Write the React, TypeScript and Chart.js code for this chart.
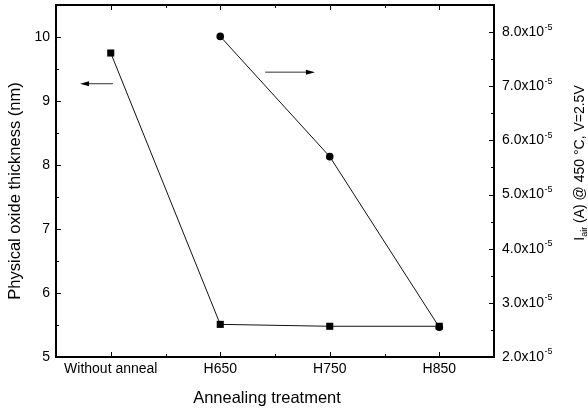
import { useEffect, useRef } from 'react';
import { Chart, registerables } from 'chart.js';

Chart.register(...registerables);

const categories = ['Without anneal', 'H650', 'H750', 'H850'];
const thickness = [9.75, 5.51, 5.48, 5.48];
const current = [null, 7.92e-5, 5.70e-5, 2.55e-5];
const leftTicks = [5, 6, 7, 8, 9, 10];
const rightTicks = [2e-5, 3e-5, 4e-5, 5e-5, 6e-5, 7e-5, 8e-5];
const rightTickExponent = '-5';
const xTitle = 'Annealing treatment';
const leftTitle = 'Physical oxide thickness (nm)';
const rightTitleMain = 'I';
const rightTitleSub = 'air';
const rightTitleRest = ' (A) @ 450 °C, V=2.5V';
// arrows: [tail x, tip x] in category units, y in the axis units they refer to
const leftArrowX = [0.02, -0.28];
const leftArrowY = 9.27;
const rightArrowX = [1.41, 1.865];
const rightArrowY = 7.26e-5;

const FONT = '"Liberation Sans", Arial, Helvetica, sans-serif';

function drawArrow(ctx: CanvasRenderingContext2D, x0: number, x1: number, y: number) {
  const dir = Math.sign(x1 - x0);
  ctx.save();
  ctx.strokeStyle = '#333';
  ctx.lineWidth = 1;
  ctx.beginPath();
  ctx.moveTo(x0, y);
  ctx.lineTo(x1 - dir * 6, y);
  ctx.stroke();
  ctx.fillStyle = '#000';
  ctx.beginPath();
  ctx.moveTo(x1, y);
  ctx.lineTo(x1 - dir * 9, y - 2.5);
  ctx.lineTo(x1 - dir * 9, y + 2.5);
  ctx.closePath();
  ctx.fill();
  ctx.restore();
}

const framePlugin = {
  id: 'framePlugin',
  beforeDatasetsDraw(chart: any) {
    const ctx: CanvasRenderingContext2D = chart.ctx;
    const { left, right, top, bottom } = chart.chartArea;
    const xs = chart.scales.x;
    const ys = chart.scales.y;
    const y2 = chart.scales.y2;
    ctx.save();
    ctx.strokeStyle = '#000';
    ctx.lineWidth = 1;
    // x ticks (top & bottom, inward)
    categories.forEach((_, i) => {
      const px = Math.round(xs.getPixelForValue(i)) + 0.5;
      ctx.beginPath();
      ctx.moveTo(px, bottom); ctx.lineTo(px, bottom - 5);
      ctx.moveTo(px, top); ctx.lineTo(px, top + 5);
      ctx.stroke();
      if (i < categories.length - 1) {
        const pm = Math.round(xs.getPixelForValue(i + 0.5)) + 0.5;
        ctx.beginPath();
        ctx.moveTo(pm, bottom); ctx.lineTo(pm, bottom - 3);
        ctx.moveTo(pm, top); ctx.lineTo(pm, top + 3);
        ctx.stroke();
      }
    });
    // left ticks
    leftTicks.forEach((v) => {
      const py = Math.round(ys.getPixelForValue(v)) + 0.5;
      ctx.beginPath();
      ctx.moveTo(left, py); ctx.lineTo(left + 5, py);
      ctx.stroke();
      const pm = Math.round(ys.getPixelForValue(v + 0.5)) + 0.5;
      if (pm > top + 1) {
        ctx.beginPath();
        ctx.moveTo(left, pm); ctx.lineTo(left + 3, pm);
        ctx.stroke();
      }
    });
    // right ticks
    rightTicks.forEach((v) => {
      const py = Math.round(y2.getPixelForValue(v)) + 0.5;
      ctx.beginPath();
      ctx.moveTo(right, py); ctx.lineTo(right - 5, py);
      ctx.stroke();
      const pm = Math.round(y2.getPixelForValue(v + 0.5e-5)) + 0.5;
      if (pm > top + 1) {
        ctx.beginPath();
        ctx.moveTo(right, pm); ctx.lineTo(right - 3, pm);
        ctx.stroke();
      }
    });
    // frame
    ctx.lineWidth = 2;
    ctx.strokeRect(left, top, right - left, bottom - top);

    // arrows
    drawArrow(ctx, xs.getPixelForValue(leftArrowX[0]), xs.getPixelForValue(leftArrowX[1]), ys.getPixelForValue(leftArrowY));
    drawArrow(ctx, xs.getPixelForValue(rightArrowX[0]), xs.getPixelForValue(rightArrowX[1]), y2.getPixelForValue(rightArrowY));

    // right tick labels with superscript
    ctx.fillStyle = '#000';
    ctx.textBaseline = 'middle';
    ctx.textAlign = 'left';
    rightTicks.forEach((v) => {
      const py = y2.getPixelForValue(v);
      const main = (v / 1e-5).toFixed(1) + 'x10';
      ctx.font = `14px ${FONT}`;
      const w = ctx.measureText(main).width;
      const x = right + 8;
      ctx.fillText(main, x, py);
      ctx.font = `9px ${FONT}`;
      ctx.fillText(rightTickExponent, x + w + 0.5, py - 5);
    });

    // left title
    ctx.save();
    ctx.translate(15, (top + bottom) / 2 + 10);
    ctx.rotate(-Math.PI / 2);
    ctx.font = `16.5px ${FONT}`;
    ctx.textAlign = 'center';
    ctx.textBaseline = 'middle';
    ctx.fillText(leftTitle, 0, 0);
    ctx.restore();

    // bottom title
    ctx.font = `16.5px ${FONT}`;
    ctx.textAlign = 'center';
    ctx.textBaseline = 'middle';
    ctx.fillText(xTitle, (left + right) / 2 - 8, 398);

    // right title with subscript
    ctx.save();
    ctx.translate(580, (top + bottom) / 2 - 18);
    ctx.rotate(-Math.PI / 2);
    ctx.textAlign = 'left';
    ctx.textBaseline = 'middle';
    const big = `14px ${FONT}`;
    const small = `9px ${FONT}`;
    ctx.font = big;
    const w1 = ctx.measureText(rightTitleMain).width;
    const w3 = ctx.measureText(rightTitleRest).width;
    ctx.font = small;
    const w2 = ctx.measureText(rightTitleSub).width;
    let x = -(w1 + w2 + w3) / 2;
    ctx.font = big;
    ctx.fillText(rightTitleMain, x, 0);
    x += w1;
    ctx.font = small;
    ctx.fillText(rightTitleSub, x, 5);
    x += w2;
    ctx.font = big;
    ctx.fillText(rightTitleRest, x, 0);
    ctx.restore();

    ctx.restore();
  },
};

export default function App() {
  const ref = useRef<HTMLCanvasElement>(null);
  useEffect(() => {
    if (!ref.current) return;
    const chart = new Chart(ref.current, {
      type: 'line',
      data: {
        datasets: [
          {
            label: 'Thickness',
            data: thickness.map((v, i) => ({ x: i, y: v })),
            yAxisID: 'y',
            borderColor: '#111',
            borderWidth: 1,
            pointStyle: 'rect',
            pointRadius: 5,
            pointBorderWidth: 0,
            pointBackgroundColor: '#000',
            pointHoverRadius: 5,
          },
          {
            label: 'Current',
            data: current.map((v, i) => ({ x: i, y: v })).filter((p) => p.y !== null),
            yAxisID: 'y2',
            borderColor: '#111',
            borderWidth: 1,
            pointStyle: 'circle',
            pointRadius: 3.8,
            pointBorderWidth: 0,
            pointBackgroundColor: '#000',
            pointHoverRadius: 3.8,
          },
        ],
      },
      options: {
        animation: false,
        responsive: true,
        maintainAspectRatio: false,
        layout: { padding: { top: 5, left: 0, right: 0, bottom: 0 } },
        plugins: { legend: { display: false }, tooltip: { enabled: false } },
        events: [],
        scales: {
          x: {
            type: 'linear',
            min: -0.5,
            max: 3.5,
            grid: { display: false, drawTicks: false },
            border: { display: false },
            afterBuildTicks: (s: any) => { s.ticks = categories.map((_, i) => ({ value: i })); },
            afterFit: (s: any) => { s.height = 55; s.paddingLeft = 0; s.paddingRight = 0; },
            ticks: {
              padding: 4,
              color: '#000',
              maxRotation: 0,
              autoSkip: false,
              font: { family: FONT, size: 14 },
              callback: (v: any) => categories[v as number] ?? '',
            },
          },
          y: {
            position: 'left',
            min: 5,
            max: 10.5,
            grid: { display: false, drawTicks: false },
            border: { display: false },
            afterBuildTicks: (s: any) => { s.ticks = leftTicks.map((v) => ({ value: v })); },
            afterFit: (s: any) => { s.width = 56; s.paddingTop = 0; s.paddingBottom = 0; },
            ticks: {
              padding: 6,
              color: '#000',
              font: { family: FONT, size: 14 },
              callback: (v: any) => String(v),
            },
          },
          y2: {
            position: 'right',
            min: 2e-5,
            max: 8.5e-5,
            grid: { display: false, drawTicks: false },
            border: { display: false },
            afterBuildTicks: (s: any) => { s.ticks = rightTicks.map((v) => ({ value: v })); },
            afterFit: (s: any) => { s.width = 94; s.paddingTop = 0; s.paddingBottom = 0; },
            ticks: { display: false },
          },
        },
      },
      plugins: [framePlugin],
    });
    return () => chart.destroy();
  }, []);
  return (
    <div style={{ position: 'absolute', left: 0, top: 0, width: 588, height: 412, background: '#fff' }}>
      <canvas ref={ref} />
    </div>
  );
}
